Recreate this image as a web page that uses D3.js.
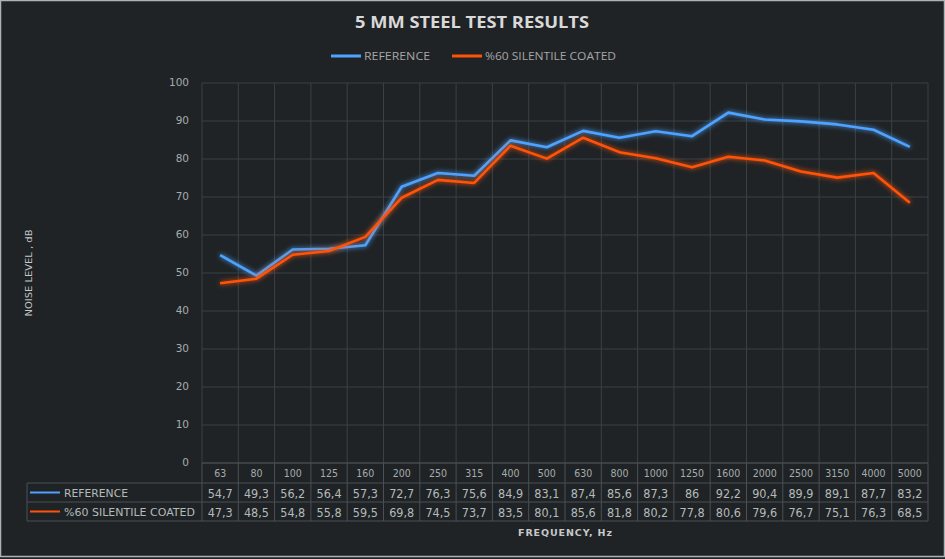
<!DOCTYPE html>
<html><head><meta charset="utf-8">
<script src="https://cdn.jsdelivr.net/npm/d3@7"></script>
<style>
html,body{margin:0;padding:0;background:#1f2326;}
svg{display:block;}
</style></head>
<body>
<script>
const categories = ["63","80","100","125","160","200","250","315","400","500","630","800","1000","1250","1600","2000","2500","3150","4000","5000"];
const referenceValues = [54.7,49.3,56.2,56.4,57.3,72.7,76.3,75.6,84.9,83.1,87.4,85.6,87.3,86,92.2,90.4,89.9,89.1,87.7,83.2];
const coatedValues = [47.3,48.5,54.8,55.8,59.5,69.8,74.5,73.7,83.5,80.1,85.6,81.8,80.2,77.8,80.6,79.6,76.7,75.1,76.3,68.5];
const yTicks = [0,10,20,30,40,50,60,70,80,90,100];
const seriesNames = ["REFERENCE","%60 SILENTILE COATED"];
const seriesColors = ["#4da3ff","#ff5208"];

(function(){
const W = 945, H = 559;
const svg = d3.select("body").append("svg").attr("width",W).attr("height",H);
svg.append("rect").attr("x",0.5).attr("y",0.5).attr("width",W-1).attr("height",H-3)
  .attr("fill","#1f2326").attr("stroke","#aab4b4").attr("stroke-width",1.5);

const defs = svg.append("defs");
seriesColors.forEach((c,i)=>{
  const f = defs.append("filter").attr("id","glow"+i).attr("x","-10%").attr("y","-30%").attr("width","120%").attr("height","160%");
  f.append("feGaussianBlur").attr("in","SourceGraphic").attr("stdDeviation",2.5).attr("result","b");
  const m = f.append("feMerge");
  m.append("feMergeNode").attr("in","b");
  m.append("feMergeNode").attr("in","SourceGraphic");
});

const pLeft = 202, pRight = 928, pTop = 83, pBottom = 463;
const x = d3.scaleBand().domain(categories).range([pLeft,pRight]);
const y = d3.scaleLinear().domain([0,100]).range([pBottom,pTop]);

// title
svg.append("text").attr("x",472).attr("y",28).attr("text-anchor","middle")
  .attr("font-family","Open Sans").attr("font-weight","bold").attr("font-size",15.5)
  .attr("fill","#d9d9d9").attr("textLength",234).attr("lengthAdjust","spacingAndGlyphs")
  .text("5 MM STEEL TEST RESULTS");

// legend
const legendX = [331,452];
const legendTextW = [66,131];
seriesNames.forEach((n,i)=>{
  svg.append("line").attr("x1",legendX[i]).attr("x2",legendX[i]+30).attr("y1",56).attr("y2",56)
    .attr("stroke",seriesColors[i]).attr("stroke-width",3);
  svg.append("text").attr("x",legendX[i]+33).attr("y",60)
    .attr("font-family","Open Sans").attr("font-size",11).attr("fill","#a6a6a6")
    .attr("textLength",legendTextW[i]).attr("lengthAdjust","spacingAndGlyphs").text(n);
});

// grid
const g = svg.append("g");
g.selectAll("line.h").data(yTicks).join("line")
  .attr("x1",pLeft).attr("x2",pRight).attr("y1",d=>y(d)).attr("y2",d=>y(d))
  .attr("stroke","#3b4044").attr("stroke-width",1);
const vlines = categories.map(c=>x(c)).concat([pRight]);
g.selectAll("line.v").data(vlines).join("line")
  .attr("x1",d=>d).attr("x2",d=>d).attr("y1",pTop).attr("y2",pBottom)
  .attr("stroke","#3b4044").attr("stroke-width",1);

// y axis
const yAxis = d3.axisLeft(y).tickValues(yTicks).tickSize(0).tickPadding(13);
const ya = svg.append("g").attr("transform",`translate(${pLeft},0)`).call(yAxis);
ya.select(".domain").remove();
ya.selectAll("text").attr("font-family","DejaVu Sans").attr("font-size",10.5).attr("fill","#a6acac").attr("dy","0.2em");

svg.append("text").attr("transform","translate(32,273) rotate(-90)").attr("text-anchor","middle")
  .attr("font-family","DejaVu Sans").attr("font-size",9).attr("fill","#c8c8c8")
  .attr("textLength",87).attr("lengthAdjust","spacingAndGlyphs").text("NOISE LEVEL , dB");

// lines
const line = d3.line().x((d,i)=>x(categories[i])+x.bandwidth()/2).y(d=>y(d));
[referenceValues,coatedValues].forEach((vals,i)=>{
  svg.append("path").datum(vals).attr("d",line).attr("fill","none")
    .attr("stroke",seriesColors[i]).attr("stroke-width",2.6).attr("stroke-linejoin","round")
    .attr("filter",`url(#glow${i})`);
});

// data table
const rowTop = [463,483,502,521];
const tableLeft = 27;
const tc = "#4a5054";
const tbl = svg.append("g");
tbl.append("line").attr("x1",pLeft).attr("x2",pRight).attr("y1",rowTop[0]).attr("y2",rowTop[0]).attr("stroke",tc);
[1,2,3].forEach(k=>{
  tbl.append("line").attr("x1",tableLeft).attr("x2",pRight).attr("y1",rowTop[k]).attr("y2",rowTop[k]).attr("stroke",tc);
});
tbl.append("line").attr("x1",tableLeft).attr("x2",tableLeft).attr("y1",rowTop[1]).attr("y2",rowTop[3]).attr("stroke",tc);
vlines.forEach(v=>{
  tbl.append("line").attr("x1",v).attr("x2",v).attr("y1",rowTop[0]).attr("y2",rowTop[3]).attr("stroke",tc);
});
tbl.selectAll("text.cat").data(categories).join("text")
  .attr("x",d=>x(d)+x.bandwidth()/2).attr("y",rowTop[0]+13.5).attr("text-anchor","middle")
  .attr("font-family","DejaVu Sans Condensed").attr("font-size",10.5).attr("fill","#a6acac").text(d=>d);
const fmt = v => String(v).replace(".",",");
[referenceValues,coatedValues].forEach((vals,i)=>{
  tbl.selectAll("text.v"+i).data(vals).join("text")
    .attr("x",(d,j)=>x(categories[j])+x.bandwidth()/2).attr("y",rowTop[i+1]+14.5).attr("text-anchor","middle")
    .attr("font-family","DejaVu Sans Condensed").attr("font-size",12.5).attr("fill","#b4baba").text(fmt);
  tbl.append("line").attr("x1",30).attr("x2",60).attr("y1",rowTop[i+1]+9.5).attr("y2",rowTop[i+1]+9.5)
    .attr("stroke",seriesColors[i]).attr("stroke-width",2);
  tbl.append("text").attr("x",64).attr("y",rowTop[i+1]+14)
    .attr("font-family","DejaVu Sans").attr("font-size",11).attr("fill","#b4baba")
    .attr("textLength",i===0?64:131).attr("lengthAdjust","spacingAndGlyphs").text(seriesNames[i]);
});

svg.append("text").attr("x",565).attr("y",536).attr("text-anchor","middle")
  .attr("font-family","DejaVu Sans").attr("font-weight","bold").attr("font-size",9.5).attr("fill","#c8c8c8")
  .attr("textLength",94).attr("lengthAdjust","spacing")
  .text("FREQUENCY,  Hz");
})();
</script>
</body></html>
